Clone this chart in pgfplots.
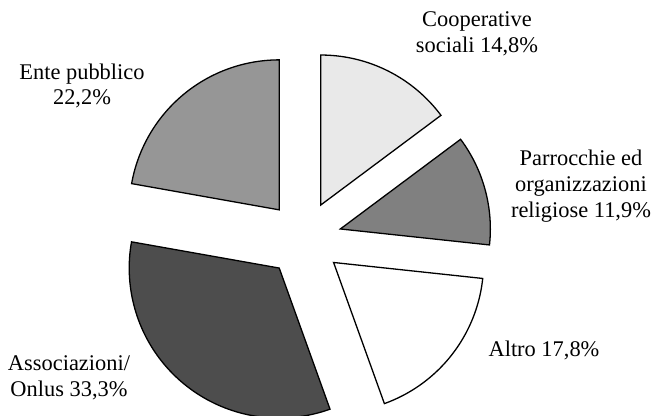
\documentclass[border=0pt]{standalone}
\usepackage{pgfplots}
\pgfplotsset{compat=1.18}
\usepackage{fontspec}
\setmainfont{Liberation Serif}
\definecolor{cCoop}{HTML}{E9E9E9}
\definecolor{cParr}{HTML}{808080}
\definecolor{cAltro}{HTML}{FFFFFF}
\definecolor{cAssoc}{HTML}{4D4D4D}
\definecolor{cEnte}{HTML}{969696}
% pie geometry (in picture units of 1bp)
\def\pcx{303.7}\def\pcy{177}\def\prad{150}\def\pexp{38}
\gdef\cum{0}
\newcommand{\slice}[2]{%
  \pgfmathsetmacro\sa{3.6*\cum}%
  \pgfmathsetmacro\sb{3.6*(\cum+#1)}%
  \pgfmathsetmacro\sm{(\sa+\sb)/2}%
  \pgfmathsetmacro\vx{\pcx+\pexp*sin(\sm)}%
  \pgfmathsetmacro\vy{\pcy+\pexp*cos(\sm)}%
  \edef\temp{\noexpand\addplot[draw=black, line width=1.3pt, line join=miter, fill=#2, domain=\sa:\sb, samples=80, variable=\noexpand\t]
    ({\vx+\prad*sin(\noexpand\t)},{\vy+\prad*cos(\noexpand\t)}) -- (axis cs:\vx,\vy) -- cycle;}%
  \temp
  \pgfmathsetmacro\newcum{\cum+#1}%
  \xdef\cum{\newcum}%
}
\begin{document}
\begin{tikzpicture}[lbl/.style={font=\fontsize{22.5}{26}\selectfont, align=center, inner sep=0pt}]
\begin{axis}[
  width=654bp, height=416bp, scale only axis,
  xmin=0, xmax=654, ymin=0, ymax=416,
  hide axis, clip=false,
  anchor=south west, at={(0,0)},
]
% values in percent, clockwise from 12 o'clock
\slice{14.8}{cCoop}
\slice{11.9}{cParr}
\slice{17.8}{cAltro}
\slice{33.3}{cAssoc}
\slice{22.2}{cEnte}
\node[lbl] at (axis cs:477,382) {Cooperative\\sociali 14,8\%};
\node[lbl] at (axis cs:581,230) {Parrocchie ed\\organizzazioni\\religiose 11,9\%};
\node[lbl] at (axis cs:544,66) {Altro 17,8\%};
\node[lbl] at (axis cs:69,38.5) {Associazioni/\\Onlus 33,3\%};
\node[lbl] at (axis cs:82,330) {Ente pubblico\\22,2\%};
\end{axis}
\pgfresetboundingbox
\useasboundingbox (0,0) rectangle (654bp,416bp);
\end{tikzpicture}
\end{document}
